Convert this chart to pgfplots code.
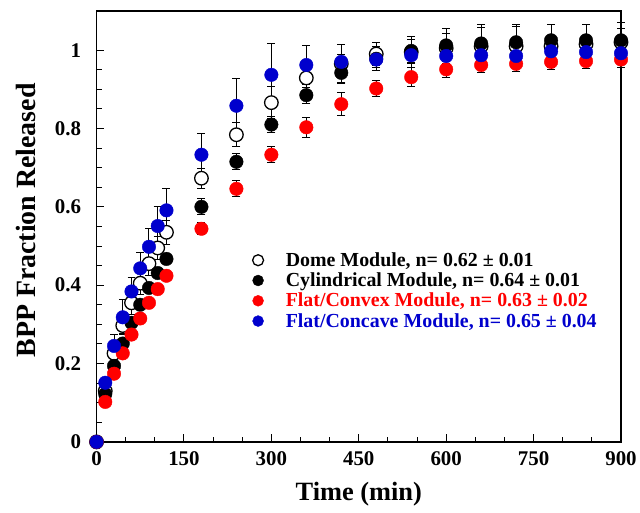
\documentclass[border=0pt]{standalone}
\usepackage{pgfplots}
\pgfplotsset{compat=1.18}
\usepackage{pgfplotstable}
\usepackage{fontspec}
\setmainfont{Liberation Serif}
\definecolor{myred}{RGB}{255,0,0}
\definecolor{myblue}{RGB}{0,0,205}

\pgfplotstableread{
x y e
0 0 0
15 0.13 0.01
30 0.226 0.03
45 0.297 0.02
60 0.355 0.03
75 0.405 0.03
90 0.455 0.03
105 0.495 0.03
120 0.535 0.03
180 0.673 0.025
240 0.784 0.03
300 0.866 0.04
360 0.929 0.04
420 0.965 0.05
480 0.99 0.03
540 0.995 0.04
600 1.005 0.05
660 1.01 0.055
720 1.01 0.055
780 1.01 0.055
840 1.015 0.05
900 1.02 0.05
}\dome

\pgfplotstableread{
x y e
0 0 0
15 0.122 0.01
30 0.194 0.01
45 0.251 0.01
60 0.304 0.01
75 0.35 0.01
90 0.393 0.01
105 0.431 0.01
120 0.467 0.01
180 0.6 0.02
240 0.715 0.02
300 0.81 0.02
360 0.885 0.02
420 0.942 0.025
480 0.978 0.03
540 0.998 0.03
600 1.012 0.03
660 1.017 0.04
720 1.02 0.04
780 1.025 0.04
840 1.025 0.04
900 1.025 0.03
}\cyl

\pgfplotstableread{
x y e
0 0 0
15 0.102 0.005
30 0.174 0.005
45 0.226 0.005
60 0.274 0.005
75 0.315 0.005
90 0.355 0.005
105 0.39 0.005
120 0.424 0.01
180 0.544 0.015
240 0.646 0.02
300 0.733 0.02
360 0.803 0.025
420 0.862 0.03
480 0.902 0.02
540 0.931 0.025
600 0.951 0.02
660 0.962 0.02
720 0.965 0.02
780 0.97 0.02
840 0.972 0.02
900 0.976 0.02
}\convex

\pgfplotstableread{
x y e
0 0 0
15 0.151 0.01
30 0.245 0.03
45 0.318 0.045
60 0.384 0.035
75 0.443 0.04
90 0.498 0.047
105 0.551 0.05
120 0.591 0.055
180 0.733 0.053
240 0.858 0.07
300 0.937 0.08
360 0.962 0.05
420 0.970 0.02
480 0.976 0.02
540 0.987 0.02
600 0.985 0.02
660 0.987 0.02
720 0.985 0.02
780 0.997 0.02
840 0.995 0.02
900 0.992 0.02
}\concave

\begin{document}
\begin{tikzpicture}
\pgfplotsset{mylegimg/.style={legend image code/.code={%
    \path (0cm,0cm) (1.3cm,0cm);
    \draw[mark repeat=2, mark phase=2, ##1, mark size=5.5pt]
    plot coordinates {(0cm,0cm) (0.4cm,0cm) (1.3cm,0cm)};}}}
\begin{axis}[
  scale only axis,
  width=527pt, height=433pt,
  xmin=0, xmax=900, ymin=0, ymax=1.1,
  xtick={0,150,...,900},
  ytick={0,0.2,0.4,0.6,0.8,1},
  yticklabels={0,0.2,0.4,0.6,0.8,1},
  minor x tick num=2,
  minor y tick num=3,
  tick align=inside,
  xtick pos=bottom, ytick pos=left,
  major tick length=8pt, minor tick length=5pt,
  every tick/.style={black, line width=1pt},
  axis line style={line width=1.8pt},
  /pgf/number format/assume math mode=true,
  tick label style={font=\bfseries\fontsize{21}{21}\selectfont},
  xticklabel style={yshift=-6pt},
  yticklabel style={xshift=-12pt},
  xlabel style={font=\bfseries\fontsize{26.5}{26.5}\selectfont, yshift=-10pt},
  ylabel style={font=\bfseries\fontsize{28}{28}\selectfont, yshift=12pt, xshift=6pt},
  xlabel={Time (min)},
  ylabel={BPP Fraction Released},
  clip=false,
  legend cell align=left,
  legend style={at={(0.28,0.449)}, anchor=north west, draw=none, fill=none,
    font=\bfseries\fontsize{20}{20}\selectfont, row sep=1pt},
  error bars/y dir=both, error bars/y explicit,
  error bars/error bar style={black, line width=1pt},
  error bars/error mark options={rotate=90, black, mark size=4pt, line width=1pt},
]
\addplot[only marks, mylegimg, mark=*, mark size=6.8pt, mark options={draw=black, fill=white, line width=1.3pt}]
  table[x=x, y=y, y error=e]{\dome};
\addlegendentry{Dome Module, n= 0.62 ± 0.01}
\addplot[only marks, mylegimg, mark=*, mark size=6.8pt, mark options={draw=black, fill=black}]
  table[x=x, y=y, y error=e]{\cyl};
\addlegendentry{Cylindrical Module, n= 0.64 ± 0.01}
\addplot[only marks, mylegimg, mark=*, mark size=6.8pt, mark options={draw=myred, fill=myred}]
  table[x=x, y=y, y error=e]{\convex};
\addlegendentry{\textcolor{myred}{Flat/Convex Module, n= 0.63 ± 0.02}}
\addplot[only marks, mylegimg, mark=*, mark size=6.8pt, mark options={draw=myblue, fill=myblue}]
  table[x=x, y=y, y error=e]{\concave};
\addlegendentry{\textcolor{myblue}{Flat/Concave Module, n= 0.65 ± 0.04}}
\end{axis}
\path (current axis.south west) ++(-97pt,-71pt) coordinate (bbA);
\path (current axis.north east) ++(16pt,11pt) coordinate (bbB);
\end{tikzpicture}
\end{document}
